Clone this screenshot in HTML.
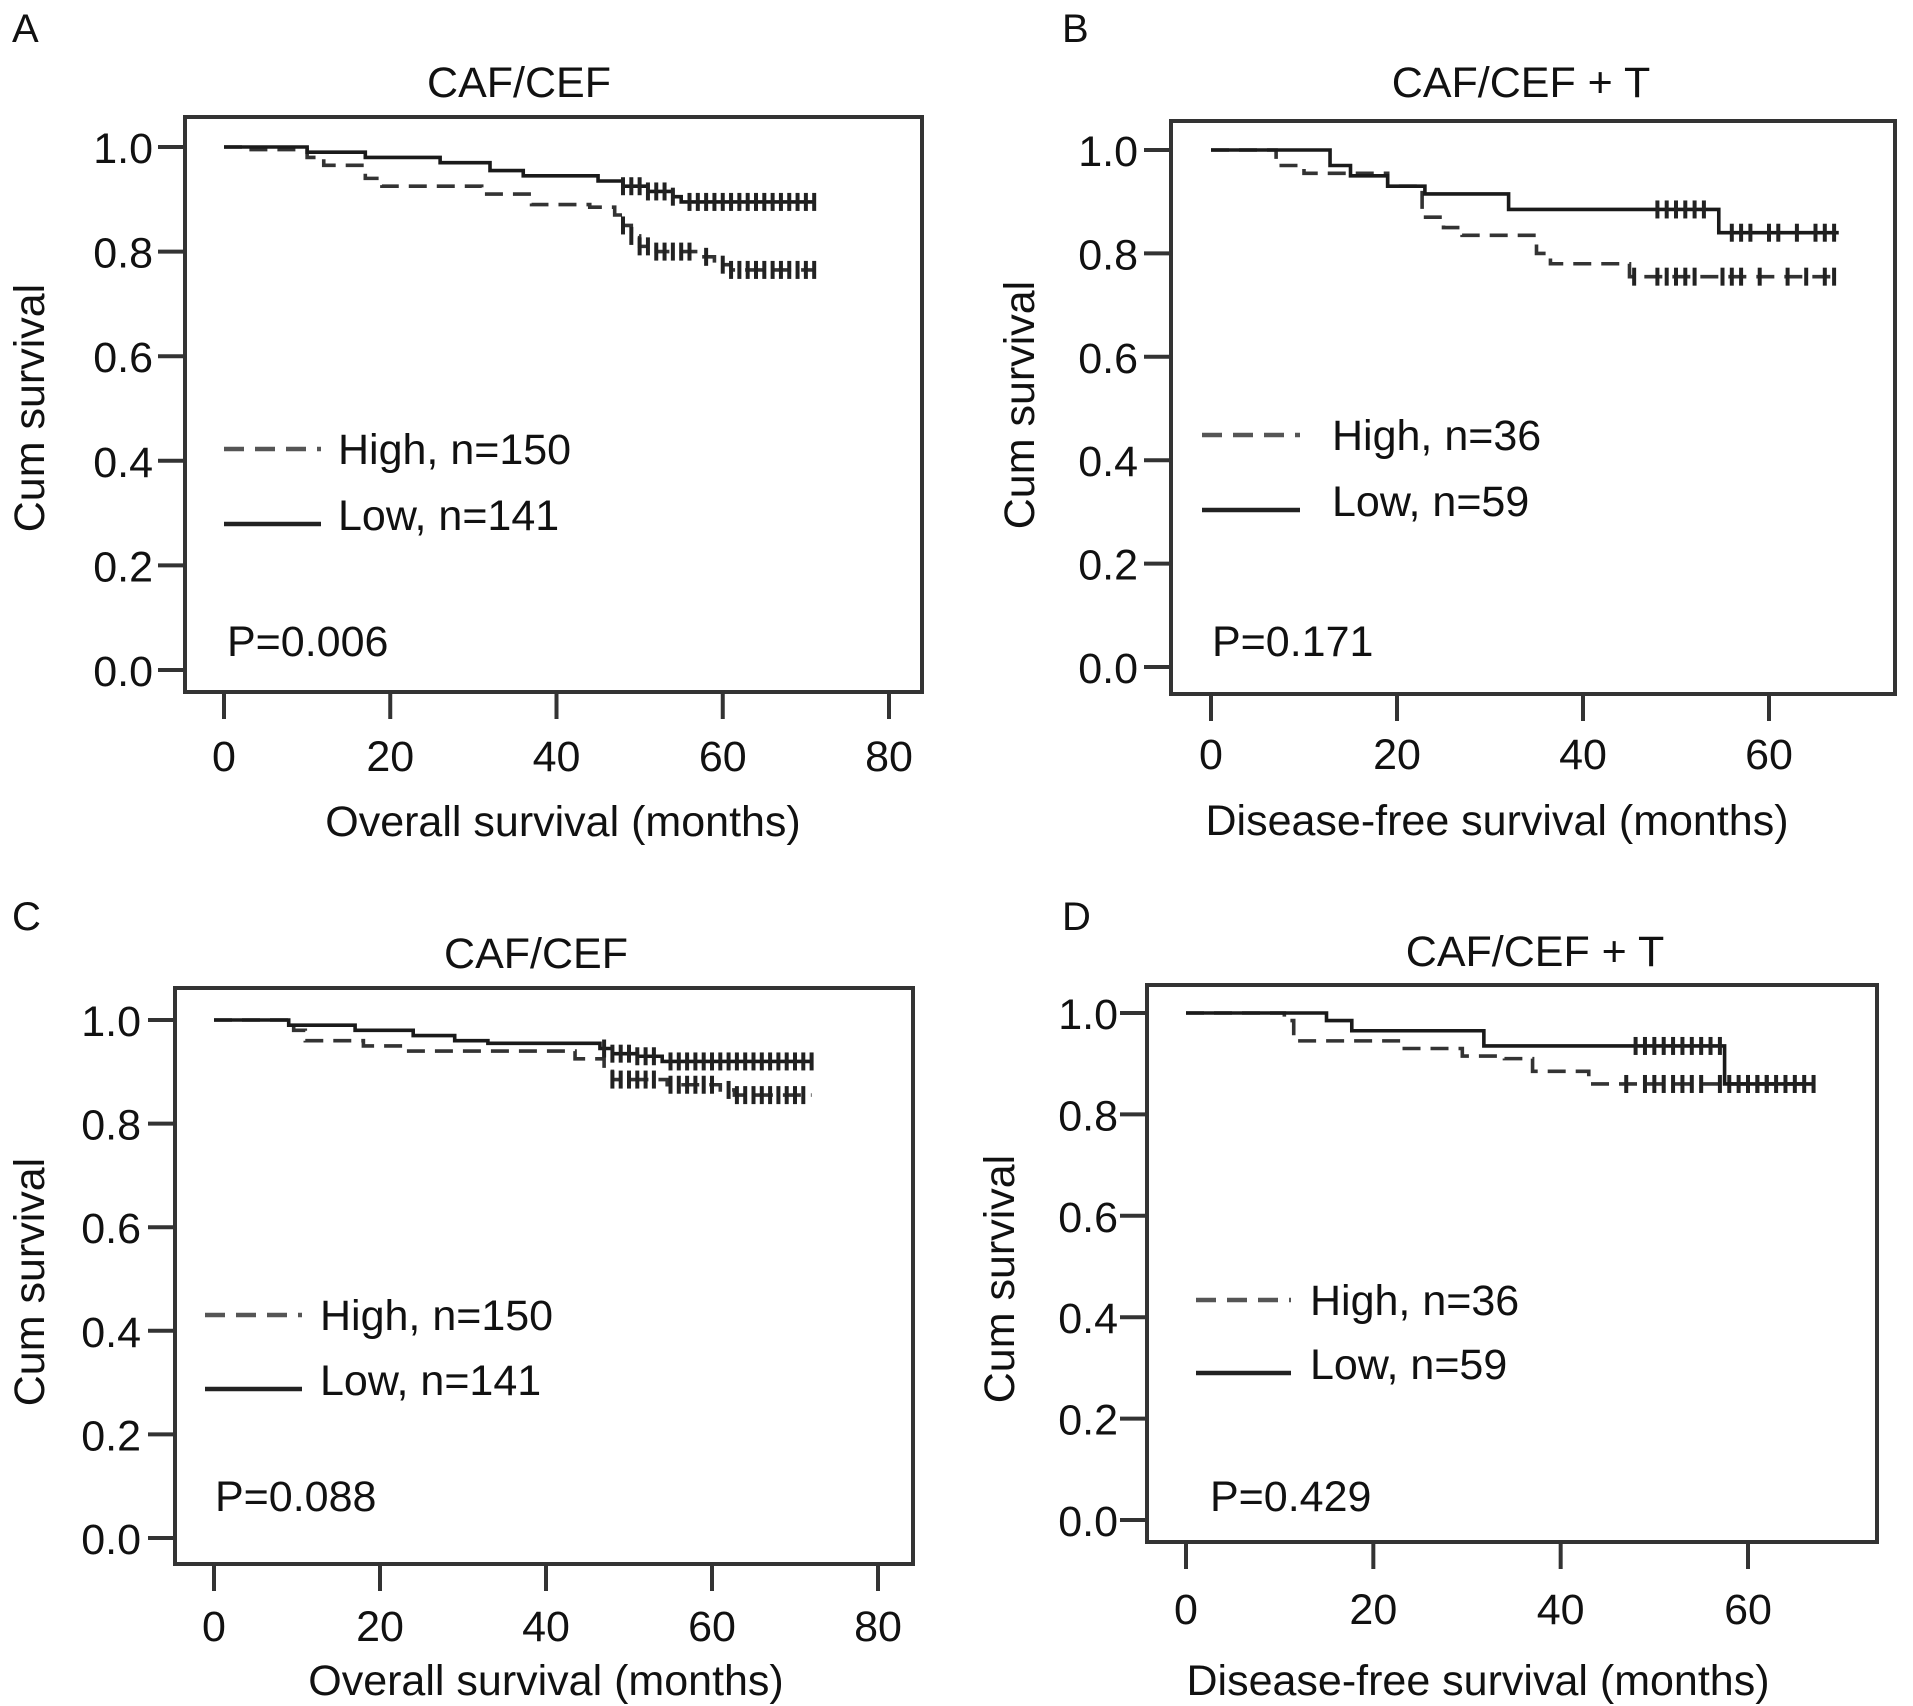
<!DOCTYPE html>
<html><head><meta charset="utf-8">
<style>
html,body{margin:0;padding:0;background:#fff;}
svg{display:block;font-family:"Liberation Sans",Arial,sans-serif;}
</style></head>
<body>
<svg id="fig" width="1913" height="1706" viewBox="0 0 1913 1706" xmlns="http://www.w3.org/2000/svg"></svg>
<script>
// ---- data (months, survival) ----
const yTicks = [0.0, 0.2, 0.4, 0.6, 0.8, 1.0];
const xTicksOS = [0, 20, 40, 60, 80];
const xTicksDFS = [0, 20, 40, 60];

const aLowT = [0, 10, 17, 26, 32, 36, 45, 48, 51, 54, 55, 71];
const aLowS = [1, 0.99, 0.98, 0.97, 0.955, 0.945, 0.935, 0.925, 0.915, 0.905, 0.895, 0.895];
const aLowC = [48,49,50,51,52,53,54,56,57,58,59,60,61,62,63,64,65,66,67,68,69,70,71];
const aHighT = [0, 3, 10, 12, 17, 19, 31, 37, 44, 47, 48, 49, 50, 52, 57, 59, 61, 71];
const aHighS = [1, 0.995, 0.98, 0.965, 0.94, 0.925, 0.91, 0.89, 0.885, 0.87, 0.85, 0.83, 0.81, 0.80, 0.79, 0.775, 0.765, 0.765];
const aHighC = [48,49,50,51,52,53,54,55,56,58,60,61,62,63,64,65,66,67,68,69,70,71];

const bLowT = [0, 12.8, 15, 19, 23, 32, 54.6, 67.5];
const bLowS = [1, 0.97, 0.95, 0.93, 0.915, 0.885, 0.84, 0.84];
const bLowC = [48,49,50,51,52,53,56,57,58,60,61,63,65,66,67];
const bHighT = [0, 7, 10, 19, 22.7, 25, 27, 35, 36.5, 45, 67.5];
const bHighS = [1, 0.97, 0.955, 0.93, 0.87, 0.85, 0.835, 0.80, 0.78, 0.755, 0.755];
const bHighC = [45.5,48,49,50,51,52,55,56,57,59,62,64,66,67];

const cLowT = [0, 9, 17, 24, 29, 33, 46.5, 48, 51, 54, 72];
const cLowS = [1, 0.99, 0.98, 0.97, 0.96, 0.955, 0.945, 0.935, 0.93, 0.92, 0.92];
const cLowC = [47,48,49,50,51,52,53,55,56,57,58,59,60,61,62,63,64,65,66,67,68,69,70,71,72];
const cHighT = [0, 9.6, 11, 18, 23, 43.5, 47, 48, 54.6, 61, 62.7, 72];
const cHighS = [1, 0.98, 0.96, 0.95, 0.94, 0.925, 0.905, 0.885, 0.875, 0.865, 0.855, 0.855];
const cHighC = [48,49,50,51,52,53,55,56,57,58,59,60,62,63,64,65,66,67,68,69,70,71];

const dLowT = [0, 15, 17.7, 31.8, 57.5, 67];
const dLowS = [1, 0.985, 0.965, 0.935, 0.86, 0.86];
const dLowC = [48,49,50,51,52,53,54,55,56,57,59,60,61,62,63,64,65,66,67];
const dHighT = [0, 10.5, 11.5, 23, 29.5, 34, 37, 43, 67];
const dHighS = [1, 0.985, 0.945, 0.93, 0.915, 0.91, 0.885, 0.86, 0.86];
const dHighC = [47,49,50,51,52,53,54,55,57,58,60,61,62];

// ---- layout ----
const panels = [
 {id:'a', letter:'A', lx:12, ly:42, title:'CAF/CEF', tx:519, ty:97, L:185,T:117,R:922,B:692, x0:224, xMax:80, xPx:889, y1:147, y0:670,
  xt:xTicksOS, xtY:771, ytR:153, ylX:44, ylY:408, xtitle:'Overall survival (months)', xtiX:563, xtiY:836,
  lg:{x1:224,x2:321,yd:449,ys:524,tx:338}, hi:'High, n=150', lo:'Low, n=141', p:'P=0.006', px:227, py:656,
  low:[aLowT,aLowS,aLowC], high:[aHighT,aHighS,aHighC]},
 {id:'b', letter:'B', lx:1062, ly:42, title:'CAF/CEF + T', tx:1521, ty:97, L:1171,T:121,R:1895,B:694, x0:1211, xMax:60, xPx:1769, y1:150, y0:667,
  xt:xTicksDFS, xtY:769, ytR:1138, ylX:1034, ylY:405, xtitle:'Disease-free survival (months)', xtiX:1497, xtiY:835,
  lg:{x1:1202,x2:1300,yd:435,ys:510,tx:1332}, hi:'High, n=36', lo:'Low, n=59', p:'P=0.171', px:1212, py:656,
  low:[bLowT,bLowS,bLowC], high:[bHighT,bHighS,bHighC]},
 {id:'c', letter:'C', lx:12, ly:930, title:'CAF/CEF', tx:536, ty:968, L:175,T:988,R:913,B:1564, x0:214, xMax:80, xPx:878, y1:1020, y0:1538,
  xt:xTicksOS, xtY:1641, ytR:141, ylX:44, ylY:1282, xtitle:'Overall survival (months)', xtiX:546, xtiY:1695,
  lg:{x1:205,x2:302,yd:1315,ys:1389,tx:320}, hi:'High, n=150', lo:'Low, n=141', p:'P=0.088', px:215, py:1511,
  low:[cLowT,cLowS,cLowC], high:[cHighT,cHighS,cHighC]},
 {id:'d', letter:'D', lx:1062, ly:930, title:'CAF/CEF + T', tx:1535, ty:966, L:1147,T:985,R:1877,B:1542, x0:1186, xMax:60, xPx:1748, y1:1013, y0:1520,
  xt:xTicksDFS, xtY:1624, ytR:1118, ylX:1014, ylY:1279, xtitle:'Disease-free survival (months)', xtiX:1478, xtiY:1695,
  lg:{x1:1196,x2:1291,yd:1300,ys:1373,tx:1310}, hi:'High, n=36', lo:'Low, n=59', p:'P=0.429', px:1210, py:1511,
  low:[dLowT,dLowS,dLowC], high:[dHighT,dHighS,dHighC]}
];

const NS='http://www.w3.org/2000/svg';
const svg=document.getElementById('fig');
const FS=43;
function mk(tag, attrs, parent){
  const e=document.createElementNS(NS,tag);
  for(const k in attrs) e.setAttribute(k, attrs[k]);
  (parent||svg).appendChild(e); return e;
}
function txt(s, attrs, parent){ const e=mk('text', attrs, parent); e.textContent=s; return e; }

panels.forEach(p=>{
  const g=mk('g',{});
  
  
  const sx=v=>p.x0+(p.xPx-p.x0)*v/p.xMax;
  const sy=v=>p.y0+(p.y1-p.y0)*v;

  const lt=txt(p.letter,{x:p.lx,y:p.ly,'font-size':40,fill:'#111'},g);
  
  
  const tt=txt(p.title,{x:p.tx,y:p.ty,'font-size':43,'text-anchor':'middle',fill:'#111'},g);
  
  

  const fr=mk('rect',{x:p.L,y:p.T,width:p.R-p.L,height:p.B-p.T,fill:'none',stroke:'#333','stroke-width':4},g);
  
  

  yTicks.forEach(v=>{
    const y=sy(v);
    const tk=mk('line',{x1:p.L-27,x2:p.L,y1:y,y2:y,stroke:'#333','stroke-width':4},g);
    
    
    const tl=txt(v.toFixed(1),{x:p.ytR,y:y+16,'font-size':FS,'text-anchor':'end',fill:'#111'},g);
    
    
  });
  p.xt.forEach(v=>{
    const x=sx(v);
    const tk=mk('line',{x1:x,x2:x,y1:p.B,y2:p.B+27,stroke:'#333','stroke-width':4},g);
    
    
    const tl=txt(String(v),{x:x,y:p.xtY,'font-size':FS,'text-anchor':'middle',fill:'#111'},g);
    
    
  });
  const yl=txt('Cum survival',{x:p.ylX,y:p.ylY,'font-size':FS,'text-anchor':'middle',fill:'#111',transform:'rotate(-90 '+p.ylX+' '+p.ylY+')'},g);
  
  
  const xl=txt(p.xtitle,{x:p.xtiX,y:p.xtiY,'font-size':FS,'text-anchor':'middle',fill:'#111'},g);
  
  

  function curve(T,S,C,dashed,name){
    let d='M'+sx(T[0])+','+sy(S[0]);
    for(let i=1;i<T.length;i++){
      d+=' H'+sx(T[i])+' V'+sy(S[i]);
    }
    const path=mk('path',{d:d,fill:'none',stroke:dashed?'#333':'#1a1a1a','stroke-width':3.6,'stroke-dasharray':dashed?'18 10':'none'},g);
    
    
    C.forEach(c=>{
      let s=S[0];
      for(let i=0;i<T.length;i++){ if(T[i]<=c) s=S[i]; }
      const m=mk('line',{x1:sx(c),x2:sx(c),y1:sy(s)-9,y2:sy(s)+9,stroke:'#222','stroke-width':4},g);
      
      
    });
  }
  curve(p.high[0],p.high[1],p.high[2],true,'high');
  curve(p.low[0],p.low[1],p.low[2],false,'low');

  const ld=mk('line',{x1:p.lg.x1,x2:p.lg.x2,y1:p.lg.yd,y2:p.lg.yd,stroke:'#555','stroke-width':4.5,'stroke-dasharray':'20 11'},g);
  
  
  const lh=txt(p.hi,{x:p.lg.tx,y:p.lg.yd+15,'font-size':FS,fill:'#111'},g);
  
  
  const ls=mk('line',{x1:p.lg.x1,x2:p.lg.x2,y1:p.lg.ys,y2:p.lg.ys,stroke:'#222','stroke-width':4.5},g);
  
  
  const ll=txt(p.lo,{x:p.lg.tx,y:p.lg.ys+6,'font-size':FS,fill:'#111'},g);
  
  
  const pv=txt(p.p,{x:p.px,y:p.py,'font-size':FS,fill:'#111'},g);
  
  
});
</script>
</body></html>
